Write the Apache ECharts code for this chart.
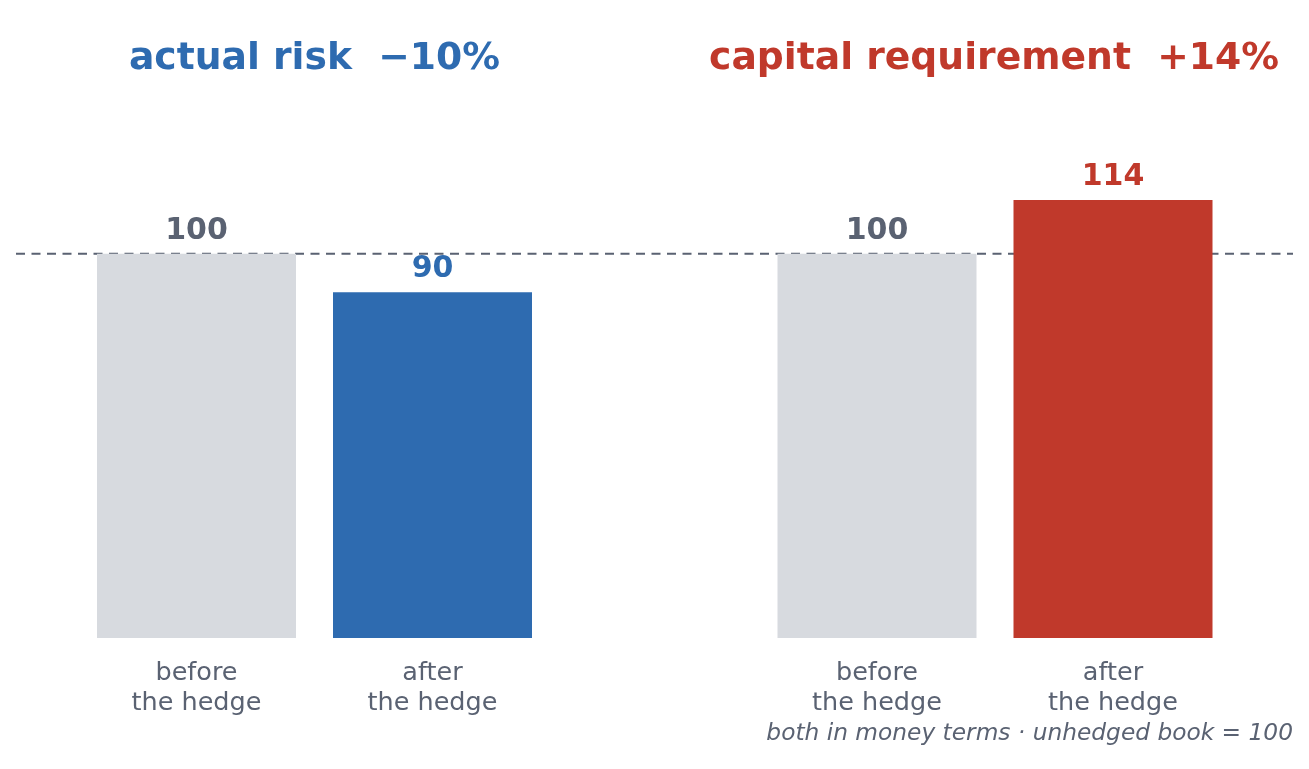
<!DOCTYPE html>
<html lang="en">
<head>
    <meta charset="UTF-8">
    <title>hedge</title>
    <script src="https://cdn.jsdelivr.net/npm/echarts/dist/echarts.min.js"></script>
    <style>
        html, body { margin: 0; padding: 0; background: #fff; }
        #chart { width: 1309px; height: 769px; }
    </style>
</head>
<body>
<div id="chart"></div>
<script>
    // data
    var categories = ['before\nthe hedge', 'after\nthe hedge'];
    var riskValues = [100, 90];
    var capitalValues = [100, 114];
    var baseline = 100;
    var riskTitle = 'actual risk  \u221210%';
    var capitalTitle = 'capital requirement  +14%';
    var footnote = 'both in money terms \u00b7 unhedged book = 100';

    var GREY_TEXT = '#5a6272';
    var GREY_BAR = '#d7dadf';
    var BLUE = '#2e6bb0';
    var RED = '#c0392b';
    var FONT = 'DejaVu Sans';

    var chart = echarts.init(document.getElementById('chart'));

    // grey for "before", coloured for "after"
    function barData(values, color) {
        return values.map(function (v, i) {
            var c = i === 0 ? GREY_BAR : color;
            var t = i === 0 ? GREY_TEXT : color;
            return { value: v, itemStyle: { color: c }, label: { color: t } };
        });
    }

    var yAxisBase = {
        type: 'value', min: 0, max: 140,
        show: false, splitLine: { show: false }
    };
    var xAxisBase = {
        type: 'category', data: categories,
        axisLine: { show: false }, axisTick: { show: false },
        axisLabel: {
            color: GREY_TEXT, fontFamily: FONT, fontSize: 25.5,
            lineHeight: 30, margin: 20
        }
    };
    var labelBase = {
        show: true, position: 'top', distance: 8,
        fontFamily: FONT, fontSize: 30, fontWeight: 'bold'
    };

    var options = {
        animation: false,
        grid: [
            { left: 78.5, width: 472, top: 100, bottom: 131 },
            { left: 759, width: 472, top: 100, bottom: 131 },
            { left: 16, right: 16, top: 100, bottom: 131 }
        ],
        xAxis: [
            Object.assign({ gridIndex: 0 }, xAxisBase),
            Object.assign({ gridIndex: 1 }, xAxisBase),
            { gridIndex: 2, type: 'value', min: 0, max: 1, show: false }
        ],
        yAxis: [
            Object.assign({ gridIndex: 0 }, yAxisBase),
            Object.assign({ gridIndex: 1 }, yAxisBase),
            Object.assign({ gridIndex: 2 }, yAxisBase)
        ],
        graphic: [
            {
                type: 'text', x: 314.5, y: 59, z: 10,
                style: {
                    text: riskTitle, fill: BLUE, font: 'bold 37.7px "' + FONT + '"',
                    textAlign: 'center', textVerticalAlign: 'middle'
                }
            },
            {
                type: 'text', x: 994, y: 59, z: 10,
                style: {
                    text: capitalTitle, fill: RED, font: 'bold 37.7px "' + FONT + '"',
                    textAlign: 'center', textVerticalAlign: 'middle'
                }
            },
            {
                type: 'text', x: 1293, y: 734, z: 10,
                style: {
                    text: footnote, fill: GREY_TEXT, font: 'italic 23.3px "' + FONT + '"',
                    textAlign: 'right', textVerticalAlign: 'middle'
                }
            }
        ],
        series: [
            {
                // dashed reference line at the unhedged level
                type: 'line', xAxisIndex: 2, yAxisIndex: 2, z: 1,
                data: [[0, baseline], [1, baseline]],
                symbol: 'none', silent: true,
                lineStyle: { color: GREY_TEXT, width: 2, type: [9, 6.5] }
            },
            {
                type: 'bar', xAxisIndex: 0, yAxisIndex: 0, z: 2,
                barWidth: 199, data: barData(riskValues, BLUE), label: labelBase
            },
            {
                type: 'bar', xAxisIndex: 1, yAxisIndex: 1, z: 2,
                barWidth: 199, data: barData(capitalValues, RED), label: labelBase
            }
        ]
    };

    chart.setOption(options);
</script>
</body>
</html>
